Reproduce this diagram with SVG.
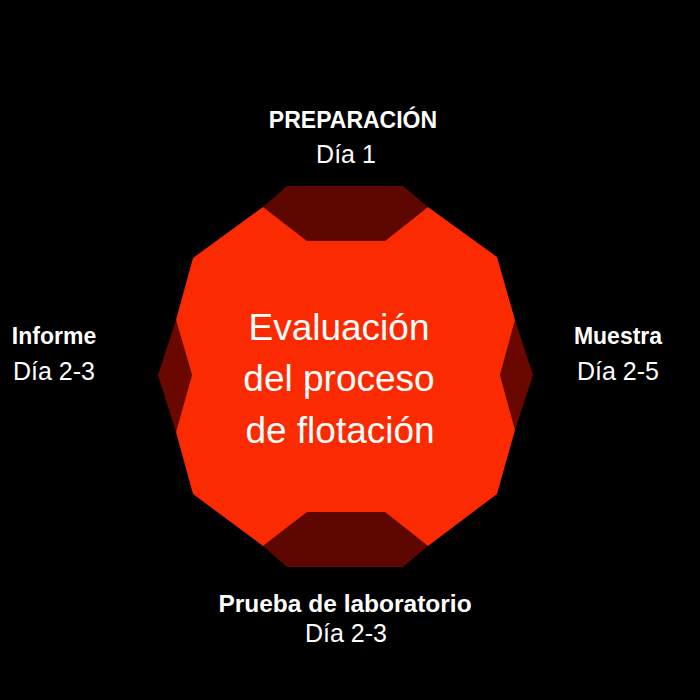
<svg xmlns="http://www.w3.org/2000/svg" width="700" height="700" viewBox="0 0 700 700">
<style>
.t{font-family:"Liberation Sans",Arial,sans-serif;fill:#ffffff;text-anchor:middle}
.b{font-weight:bold;font-size:23px}
.r{font-size:25px}
.c{font-size:37px}
.dark{fill:#5e0600}
.side{fill:#6a0800}
.red{fill:#fc2a00}
</style>
<rect width="700" height="700" fill="#000000"/>
<g id="shape">
<polygon class="dark" points="287,186 403,186 428,207 385,241 307,241 263,207"/>
<polygon class="dark" points="307,512 385,512 428,546 403,567 287,567 263,546"/>
<polygon class="side" points="176,320 192,375 176,432 158,375"/>
<polygon class="side" points="515,320 533,375 515,430 500,375"/>
<polygon class="red" points="263,207 307,241 385,241 428,207 497,257 515,320 500,375 515,430 497,494 428,546 385,512 307,512 263,546 193,494 176,432 192,375 176,320 193,258"/>
<text class="t c" x="339" y="340">Evaluación</text>
<text class="t c" x="339" y="391">del proceso</text>
<text class="t c" x="340" y="443">de flotación</text>
</g>
<g id="preparacion">
<text class="t b" x="353" y="128">PREPARACIÓN</text>
<text class="t r" x="346" y="163">Día 1</text>
</g>
<g id="muestra">
<text class="t b" x="618" y="344">Muestra</text>
<text class="t r" x="618" y="380">Día 2-5</text>
</g>
<g id="prueba">
<text class="t b" x="345" y="612" style="font-size:24.5px">Prueba de laboratorio</text>
<text class="t r" x="346" y="642">Día 2-3</text>
</g>
<g id="informe">
<text class="t b" x="54" y="344">Informe</text>
<text class="t r" x="54" y="380">Día 2-3</text>
</g>
<g id="connectors"/>
</svg>
